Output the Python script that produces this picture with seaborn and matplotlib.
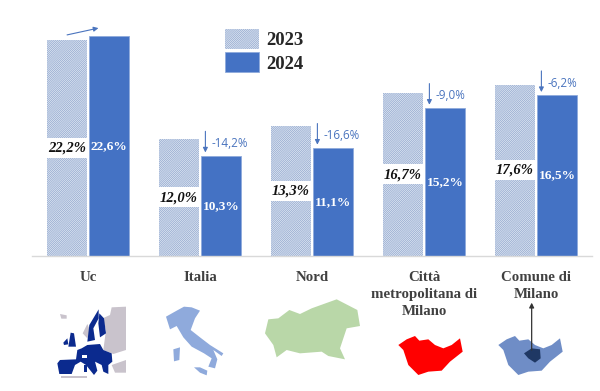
import matplotlib
matplotlib.use("Agg")
import matplotlib.pyplot as plt
from matplotlib.patches import Polygon, Rectangle
import pandas as pd
import seaborn as sns

categories = ["Uc", "Italia", "Nord", "Città\nmetropolitana di\nMilano", "Comune di\nMilano"]
values_2023 = [22.2, 12.0, 13.3, 16.7, 17.6]
values_2024 = [22.6, 10.3, 11.1, 15.2, 16.5]
years = ["2023", "2024"]
labels_2023 = ["22,2%", "12,0%", "13,3%", "16,7%", "17,6%"]
labels_2024 = ["22,6%", "10,3%", "11,1%", "15,2%", "16,5%"]
changes = ["", "-14,2%", "-16,6%", "-9,0%", "-6,2%"]

BLUE = "#4472C4"
ARROW = "#4A74BE"
SERIF = "Liberation Serif"
SANS = "Open Sans"

sns.set_theme(style="white")
plt.rcParams["hatch.linewidth"] = 0.55

df = pd.DataFrame({
    "cat": categories * 2,
    "year": [years[0]] * 5 + [years[1]] * 5,
    "val": values_2023 + values_2024,
})

W, H = 600, 391
fig = plt.figure(figsize=(6, 3.91), dpi=100, facecolor="white")
ax = fig.add_axes([32 / W, 1 - 256 / H, 560 / W, 244 / H])
sns.barplot(data=df, x="cat", y="val", hue="year", palette=["#FFFFFF", BLUE], saturation=1,
            width=0.75, gap=0.07, legend=False, ax=ax)
ax.set_xlim(-0.5, 4.5)
ax.set_ylim(0, 244 / 9.74)
ax.set_xlabel("")
ax.set_ylabel("")
ax.set_yticks([])
ax.tick_params(axis="x", length=0, pad=11)
for t in ax.get_xticklabels():
    t.set_fontfamily(SERIF)
    t.set_fontweight("bold")
    t.set_fontsize(10.7)
    t.set_color("#404040")
    t.set_linespacing(1.38)
for s in ["top", "left", "right"]:
    ax.spines[s].set_visible(False)
ax.spines["bottom"].set_color("#D9D9D9")
ax.spines["bottom"].set_linewidth(1)

c23, c24 = ax.containers
for p in c23.patches:
    p.set_facecolor("#E6ECF5")
    p.set_edgecolor("#94AAD0")
    p.set_hatch("////////////////")
    p.set_linewidth(0)
for p in c24.patches:
    p.set_edgecolor("#8FAADC")
    p.set_linewidth(0.6)

# white band behind the 2023 labels
for p in c23.patches:
    h = p.get_height()
    ax.add_patch(Rectangle((p.get_x() - 0.005, h / 2 - 1.0), p.get_width() + 0.01, 2.05,
                           facecolor="white", edgecolor="none", zorder=3))
ax.bar_label(c23, labels=labels_2023, label_type="center", fontfamily=SERIF, fontweight="bold",
             fontstyle="italic", fontsize=10.5, color="#111111", zorder=5)
ax.bar_label(c24, labels=labels_2024, label_type="center", fontfamily=SERIF, fontweight="bold",
             fontsize=9.6, color="white", zorder=5)

# change arrows and labels
for i, (p, lab) in enumerate(zip(c24.patches, changes)):
    x, top = p.get_x(), p.get_height()
    if i == 0:
        ax.annotate("", xy=(x + 0.08, top + 0.8), xytext=(x - 0.2, top + 0.1), annotation_clip=False,
                    arrowprops=dict(arrowstyle="-|>", color=ARROW, lw=0.8, shrinkA=0, shrinkB=0,
                                    mutation_scale=7))
        continue
    ax.annotate("", xy=(x + 0.035, top + 0.33), xytext=(x + 0.035, top + 2.5), annotation_clip=False,
                arrowprops=dict(arrowstyle="-|>", color=ARROW, lw=0.8, shrinkA=0, shrinkB=0,
                                mutation_scale=7))
    ax.annotate(lab, xy=(x, top), xytext=(10, 12), textcoords="offset pixels", ha="left", va="center",
                fontfamily=SANS, fontsize=8.4, color=ARROW, annotation_clip=False)

# legend
leg = ax.legend(ax.containers, years, loc="upper left", bbox_to_anchor=(225 / W, 1 - 29 / H),
                bbox_transform=fig.transFigure, frameon=False, borderpad=0, borderaxespad=0,
                handlelength=1.8, handleheight=1.25, handletextpad=0.42, labelspacing=0.17,
                prop={"family": SERIF, "weight": "bold", "size": 13.5})
for t in leg.get_texts():
    t.set_color("#262626")

# small map illustrations in a pixel-space overlay
ov = fig.add_axes([0, 0, 1, 1], facecolor="none")
ov.set_xlim(0, W)
ov.set_ylim(H, 0)
ov.axis("off")


def shape(pts, color):
    ov.add_patch(Polygon([(x / 3, 250 + y / 3) for x, y in pts], closed=True, facecolor=color,
                         edgecolor="none", linewidth=0))


# EU
EU = "#0B2A8E"
GREY = "#C9C3CC"
shape([(335, 172), (378, 170), (378, 300), (340, 312), (310, 300), (318, 240), (308, 205), (330, 195)], GREY)
shape([(335, 345), (378, 330), (378, 368), (345, 368)], GREY)
shape([(248, 250), (262, 222), (270, 240), (262, 265)], GREY)
shape([(180, 192), (200, 196), (200, 206), (184, 206)], GREY)
shape([(182, 378), (262, 378), (262, 385), (182, 385)], GREY)
shape([(172, 340), (180, 330), (228, 328), (232, 300), (245, 295), (262, 285), (300, 282), (310, 300),
       (335, 310), (337, 335), (325, 345), (325, 372), (310, 365), (305, 345), (285, 335), (292, 362),
       (282, 375), (258, 345), (242, 335), (225, 345), (215, 372), (178, 372)], EU)
shape([(252, 345), (262, 345), (262, 365), (252, 365)], EU)
shape([(262, 275), (268, 225), (296, 178), (296, 205), (280, 235), (285, 270)], EU)
shape([(298, 190), (312, 205), (318, 250), (300, 262), (295, 220)], EU)
shape([(205, 290), (212, 248), (222, 250), (228, 290)], EU)
shape([(190, 278), (202, 265), (205, 283), (192, 285)], EU)
shape([(245, 316), (262, 316), (262, 325), (245, 325)], "white")

# Italy
IT = "#8FAADC"
shape([(498, 200), (530, 182), (552, 170), (575, 172), (600, 182), (585, 205), (572, 240), (600, 262),
       (630, 285), (670, 310), (665, 318), (640, 300), (652, 328), (645, 355), (625, 350), (635, 325),
       (612, 310), (575, 290), (550, 262), (530, 228), (510, 238)], IT)
shape([(520, 298), (540, 292), (538, 330), (522, 334)], IT)
shape([(582, 352), (600, 352), (622, 362), (620, 376), (600, 368)], IT)

# Nord
shape([(795, 250), (805, 208), (835, 205), (868, 180), (900, 192), (935, 175), (1010, 148), (1072, 180),
       (1080, 228), (1040, 235), (1020, 295), (1035, 328), (985, 318), (965, 305), (900, 310),
       (860, 300), (830, 322), (820, 285)], "#B9D7A8")

# Città metropolitana
city = [(295, 285), (320, 268), (345, 258), (358, 272), (385, 268), (405, 285), (430, 295), (455, 285),
        (480, 265), (488, 305), (450, 335), (425, 362), (385, 365), (355, 375), (325, 345), (310, 300)]
shape([(x + 900, y) for x, y in city], "#FF0000")
shape([(x + 1200, y) for x, y in city], "#6F8DC6")
shape([(1572, 310), (1595, 295), (1620, 298), (1622, 325), (1605, 338), (1585, 325)], "#1F3864")
ov.annotate("", xy=(1595 / 3, 250 + 158 / 3), xytext=(1595 / 3, 250 + 300 / 3),
            arrowprops=dict(arrowstyle="-|>", color="#333333", lw=0.9, shrinkA=0, shrinkB=0, mutation_scale=7))

fig.savefig("out.png", dpi=100, facecolor="white")
